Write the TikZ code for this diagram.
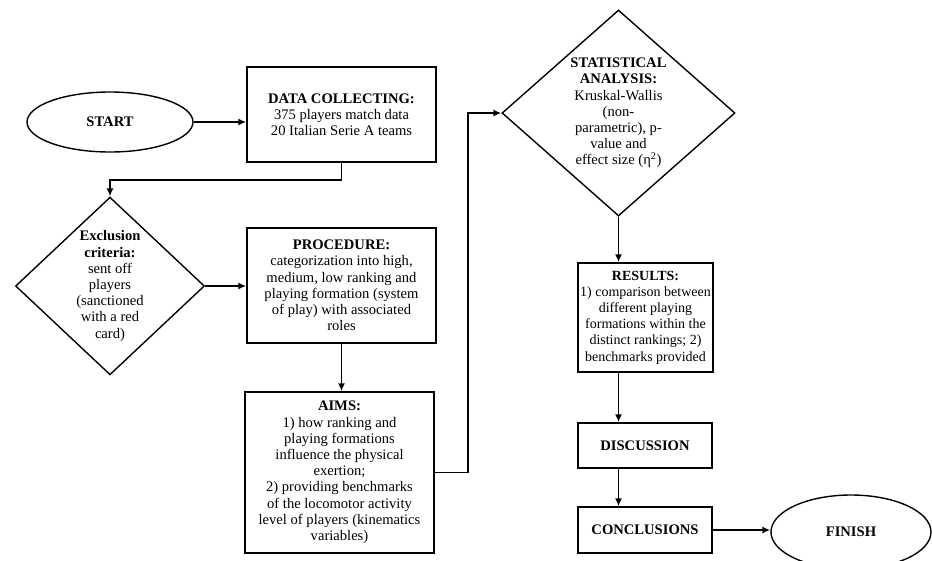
\documentclass[tikz,border=0pt]{standalone}
\usepackage{fontspec}
\setmainfont{Liberation Serif}
\usepackage{amsmath}
\usepackage{tikz}
\usetikzlibrary{shapes.geometric,arrows.meta,calc}

\tikzset{
  box/.style={draw, line width=1.4pt, rectangle, inner sep=2pt, align=center},
  oval/.style={draw, line width=1.4pt, ellipse, inner sep=0pt, align=center},
  rhomb/.style={draw, line width=1.4pt, diamond, inner sep=0pt, align=center},
  arr/.style={line width=1.6pt, -{Latex[length=8pt,width=7pt]}},
}

\begin{document}
\begin{tikzpicture}[x=1pt, y=-1pt, font=\fontsize{14.6}{16.2}\selectfont]
			\useasboundingbox (0,0) rectangle (932,560);

			% left column
			\node[oval, minimum width=166pt, minimum height=60pt] (start) at (110,122) {\textbf{START}};
			\node[box, minimum width=189pt, minimum height=95pt] (data) at (341.5,114.5)
				{\textbf{DATA COLLECTING:}\\375 players match data\\20 Italian Serie A teams};
			\node[rhomb, minimum width=189pt, minimum height=175pt] (excl) at (110,286)
				{\textbf{Exclusion}\\\textbf{criteria:}\\sent off\\players\\(sanctioned\\with a red\\card)};
			\node[box, minimum width=189pt, minimum height=115pt] (proc) at (341.5,285.5)
				{\textbf{PROCEDURE:}\\categorization into high,\\medium, low ranking and\\playing formation (system\\of play) with associated\\roles};
			\node[box, minimum width=189pt, minimum height=161pt] (aims) at (339.5,472.5)
				{\textbf{AIMS:}\\1) how ranking and\\playing formations\\influence the physical\\exertion;\\2) providing benchmarks\\of the locomotor activity\\level of players (kinematics\\variables)};

			% right column
			\node[rhomb, minimum width=233pt, minimum height=200pt] (stat) at (618.5,113)
				{\textbf{STATISTICAL}\\\textbf{ANALYSIS:}\\Kruskal-Wallis\\(non-\\parametric), p-\\value and\\effect size (η\textsuperscript{2})};
			\node[box, inner xsep=0pt, minimum width=135pt, minimum height=109pt,
				font=\fontsize{14}{16.2}\selectfont] (res) at (645.5,317.5)
				{\textbf{RESULTS:}\\1) comparison between\\different playing\\formations within the\\distinct rankings; 2)\\benchmarks provided};
			\node[box, minimum width=134pt, minimum height=45pt] (disc) at (645,445.5) {\textbf{DISCUSSION}};
			\node[box, minimum width=134pt, minimum height=46pt] (concl) at (645,530) {\textbf{CONCLUSIONS}};
			\node[oval, minimum width=160pt, minimum height=74pt] (finish) at (851,532) {\textbf{FINISH}};

			% connectors
			\draw[arr] (start.east) -- (start.east -| data.west);
			\draw[arr] (data.south) -- ++(0,17) -| (excl.north);
			\draw[arr] (excl.east) -- (excl.east -| proc.west);
			\draw[arr] (proc.south) -- (proc.south |- aims.north);
			\draw[arr] (aims.east) -- ++(33,0) |- (stat.west);
			\draw[arr] (stat.south) -- (stat.south |- res.north);
			\draw[arr] (stat.south |- res.south) -- (stat.south |- disc.north);
			\draw[arr] (stat.south |- disc.south) -- (stat.south |- concl.north);
			\draw[arr] (concl.east) -- (concl.east -| finish.west);
		\end{tikzpicture}
\end{document}
